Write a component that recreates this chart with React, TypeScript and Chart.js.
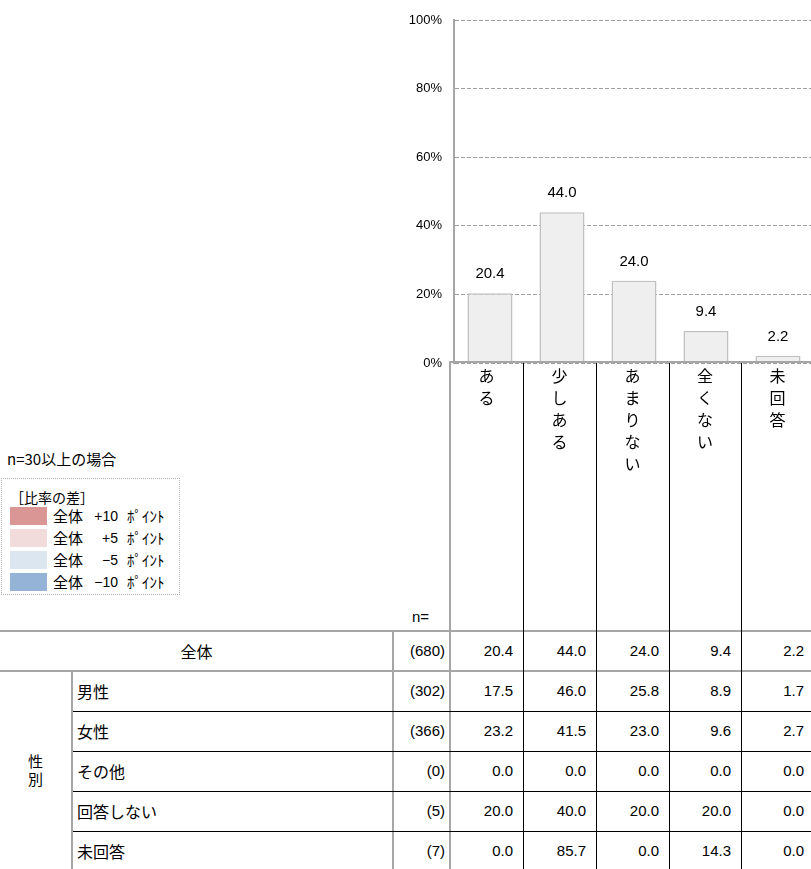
import React, { useEffect, useRef } from "react";
import { Chart, registerables } from "chart.js";

Chart.register(...registerables);

// ---------- data ----------
const categories = ["ある", "少しある", "あまりない", "全くない", "未回答"];
const overallValues = [20.4, 44.0, 24.0, 9.4, 2.2];
const yTickStep = 20;
const yMax = 100;

const totalLabel = "全体";
const totalN = 680;
const groupLabel = "性別";
const rowLabels = ["男性", "女性", "その他", "回答しない", "未回答"];
const rowNs = [302, 366, 0, 5, 7];
const rowValues = [
  [17.5, 46.0, 25.8, 8.9, 1.7],
  [23.2, 41.5, 23.0, 9.6, 2.7],
  [0.0, 0.0, 0.0, 0.0, 0.0],
  [20.0, 40.0, 20.0, 20.0, 0.0],
  [0.0, 85.7, 0.0, 14.3, 0.0],
];

const legendTitle = "n=30以上の場合";
const legendHeader = "［比率の差］";
const legendBase = "全体";
const legendDiffs = ["+10", "+5", "−5", "−10"];
const legendUnit = "ﾎﾟｲﾝﾄ";
const nLabel = "n=";

// ---------- styles ----------
const legendColors = ["#da9694", "#f2dcdb", "#dce6f1", "#95b3d7"];
const GRAY = "#a6a6a6";
const latinFont = '"Liberation Sans", Arial, "Noto Sans CJK JP", sans-serif';
const jpFont = '"Noto Sans CJK JP", "Liberation Sans", sans-serif';
const colEdges = [450, 523, 596, 669, 741, 814];

const valueLabelPlugin = {
  id: "valueLabels",
  afterDatasetsDraw(chart: any) {
    const ctx = chart.ctx;
    const meta = chart.getDatasetMeta(0);
    const data = chart.data.datasets[0].data as number[];
    ctx.save();
    ctx.font = '15px "Liberation Sans", Arial, sans-serif';
    ctx.fillStyle = "#000";
    ctx.textAlign = "center";
    ctx.textBaseline = "middle";
    meta.data.forEach((bar: any, i: number) => {
      ctx.fillText(Number(data[i]).toFixed(1), bar.x, bar.y - 19);
    });
    ctx.restore();
  },
};

function BarChart() {
  const ref = useRef<HTMLCanvasElement | null>(null);
  useEffect(() => {
    if (!ref.current) return;
    const chart = new Chart(ref.current, {
      type: "bar",
      data: {
        labels: categories,
        datasets: [
          {
            data: overallValues,
            backgroundColor: "#efefef",
            borderColor: "#c0c0c0",
            borderWidth: 1.5,
            borderSkipped: false,
            barPercentage: 0.625,
            categoryPercentage: 1,
          },
        ],
      },
      options: {
        responsive: false,
        animation: false,
        events: [],
        layout: { padding: { top: 20, bottom: 10, left: 0, right: 0 } },
        plugins: {
          legend: { display: false },
          tooltip: { enabled: false },
        },
        scales: {
          x: { display: false },
          y: {
            min: 0,
            max: yMax,
            afterFit: (scale: any) => {
              scale.width = 54;
            },
            ticks: {
              stepSize: yTickStep,
              padding: 12,
              color: "#000",
              font: { family: '"Liberation Sans", Arial, sans-serif', size: 13 },
              callback: (v: any) => v + "%",
            },
            grid: { color: "#a0a0a0", lineWidth: 1, drawTicks: false },
            border: { display: true, color: GRAY, width: 2, dash: [4, 2] },
          },
        },
      },
      plugins: [valueLabelPlugin],
    } as any);
    return () => chart.destroy();
  }, []);
  return (
    <canvas
      ref={ref}
      width={414}
      height={383}
      style={{ position: "absolute", left: 400, top: 0, width: 414, height: 383, display: "block" }}
    />
  );
}

const abs = (s: React.CSSProperties): React.CSSProperties => ({ position: "absolute", ...s });

export default function App() {
  const lines: React.ReactNode[] = [];
  // gray borders
  lines.push(<div key="g1" style={abs({ left: 449, top: 361, width: 370, height: 2, background: GRAY })} />);
  lines.push(<div key="g2" style={abs({ left: 449, top: 361, width: 2, height: 520, background: GRAY })} />);
  lines.push(<div key="g3" style={abs({ left: 0, top: 630, width: 820, height: 2, background: GRAY })} />);
  lines.push(<div key="g4" style={abs({ left: 0, top: 670, width: 820, height: 2, background: GRAY })} />);
  lines.push(<div key="g5" style={abs({ left: 392, top: 630, width: 2, height: 250, background: GRAY })} />);
  lines.push(<div key="g6" style={abs({ left: 71, top: 670, width: 2, height: 210, background: GRAY })} />);
  colEdges.slice(1, 5).forEach((x, i) =>
    lines.push(<div key={"bv" + i} style={abs({ left: x, top: 363, width: 1, height: 520, background: "#000" })} />)
  );
  [711, 751, 791, 831].forEach((y, i) =>
    lines.push(<div key={"bh" + i} style={abs({ left: 73, top: y, width: 750, height: 1, background: "#000" })} />)
  );

  const numCells = (vals: number[], top: number, key: string) =>
    vals.map((v, c) => (
      <div
        key={key + c}
        style={abs({
          left: colEdges[c],
          width: colEdges[c + 1] - colEdges[c] - 10,
          top,
          height: 40,
          lineHeight: "40px",
          textAlign: "right",
          fontSize: 15,
          fontFamily: latinFont,
        })}
      >
        {v.toFixed(1)}
      </div>
    ));

  const nCell = (n: number, top: number, key: string) => (
    <div
      key={key}
      style={abs({ left: 394, width: 51, top, height: 40, lineHeight: "40px", textAlign: "right", fontSize: 15, fontFamily: latinFont })}
    >
      ({n})
    </div>
  );

  return (
    <div style={abs({ left: 0, top: 0, width: 811, height: 869, overflow: "hidden", background: "#fff", color: "#000" })}>
      <BarChart />

      {/* category labels (vertical) */}
      {categories.map((c, i) => (
        <div
          key={"cat" + i}
          style={abs({
            left: colEdges[i],
            width: colEdges[i + 1] - colEdges[i],
            top: 364,
            textAlign: "center",
            fontSize: 16,
            lineHeight: "22px",
            fontFamily: jpFont,
          })}
        >
          {Array.from(c).map((ch, j) => (
            <div key={j}>{ch}</div>
          ))}
        </div>
      ))}

      <div style={abs({ left: 412, top: 607, lineHeight: "20px", fontSize: 15, fontFamily: latinFont })}>{nLabel}</div>

      {/* legend */}
      <div style={abs({ left: 7, top: 449, lineHeight: "20px", fontSize: 15, fontFamily: jpFont, whiteSpace: "nowrap" })}>
        {legendTitle}
      </div>
      <div style={abs({ left: 1, top: 478, width: 177, height: 115, border: "1px dotted #b0b0b0" })} />
      <div style={abs({ left: 10, top: 487, lineHeight: "20px", fontSize: 14, fontFamily: jpFont, whiteSpace: "nowrap" })}>
        {legendHeader}
      </div>
      {legendDiffs.map((d, i) => {
        const top = 507 + i * 22;
        return (
          <React.Fragment key={"lg" + i}>
            <div style={abs({ left: 10, top, width: 37, height: 18, background: legendColors[i] })} />
            <div style={abs({ left: 53, top, height: 18, lineHeight: "18px", fontSize: 15, fontFamily: jpFont })}>{legendBase}</div>
            <div style={abs({ left: 84, width: 34, top, height: 18, lineHeight: "18px", fontSize: 14, fontFamily: latinFont, textAlign: "right" })}>
              {d}
            </div>
            <div style={abs({ left: 127, top, height: 18, lineHeight: "18px", fontSize: 15, fontFamily: jpFont, whiteSpace: "nowrap" })}>
              {legendUnit}
            </div>
          </React.Fragment>
        );
      })}

      {/* table */}
      <div style={abs({ left: 0, width: 393, top: 631, height: 40, lineHeight: "40px", textAlign: "center", fontSize: 16, fontFamily: jpFont })}>
        {totalLabel}
      </div>
      {nCell(totalN, 631, "tn")}
      {numCells(overallValues, 631, "tv")}

      <div style={abs({ left: 0, width: 71, top: 752, textAlign: "center", fontSize: 15, lineHeight: "18px", fontFamily: jpFont })}>
        {Array.from(groupLabel).map((ch, j) => (
          <div key={j}>{ch}</div>
        ))}
      </div>

      {rowLabels.map((lab, r) => {
        const top = 671 + r * 40;
        return (
          <React.Fragment key={"row" + r}>
            <div style={abs({ left: 77, top, height: 40, lineHeight: "40px", fontSize: 16, fontFamily: jpFont, whiteSpace: "nowrap" })}>{lab}</div>
            {nCell(rowNs[r], top, "n" + r)}
            {numCells(rowValues[r], top, "v" + r + "_")}
          </React.Fragment>
        );
      })}

      {lines}
    </div>
  );
}
